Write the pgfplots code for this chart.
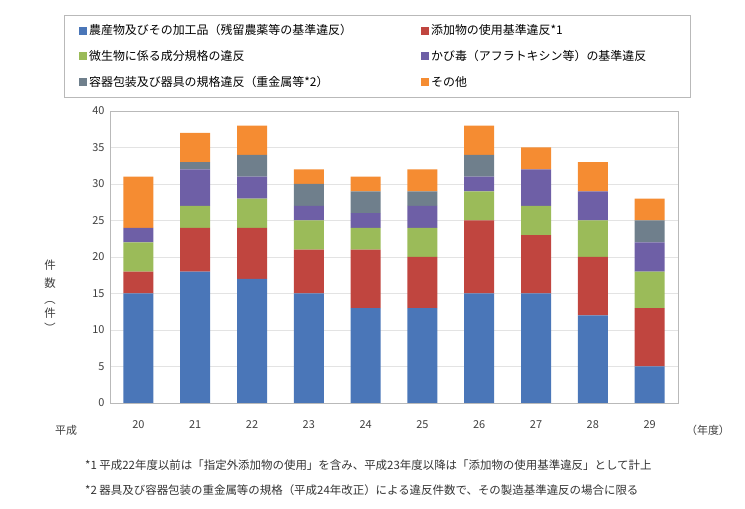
\documentclass[border=0pt]{standalone}
\usepackage{pgfplots}
\pgfplotsset{compat=1.18}
\usepackage{pgfplotstable}
\usepackage{graphicx}
\usepackage{fontspec}
\setmainfont{Noto Sans CJK JP}

\definecolor{sBlue}{HTML}{4A76B8}
\definecolor{sRed}{HTML}{C0453F}
\definecolor{sGreen}{HTML}{9BBB59}
\definecolor{sPurple}{HTML}{6E5FA6}
\definecolor{sSlate}{HTML}{6F7F8C}
\definecolor{sOrange}{HTML}{F58C32}

% violations per fiscal year (Heisei 20-29), one column per category
\pgfplotstableread{
yr  s1  s2  s3  s4  s5  s6
0   15  3   4   2   0   7
1   18  6   3   5   1   4
2   17  7   4   3   3   4
3   15  6   4   2   3   2
4   13  8   3   2   3   2
5   13  7   4   3   2   3
6   15  10  4   2   3   4
7   15  8   4   5   0   3
8   12  8   5   4   0   4
9   5   8   5   4   3   3
}\violations

\begin{document}
\begin{tikzpicture}[x=1bp,y=1bp]
\path[use as bounding box] (0,0) rectangle (745,509);

\begin{axis}[
  at={(110bp,106bp)}, anchor=south west,
  width=568bp, height=292bp, scale only axis,
  ybar stacked, bar width=30bp,
  xmin=-0.5, xmax=9.5, ymin=0, ymax=40,
  xtick={0,...,9}, xticklabels={20,21,22,23,24,25,26,27,28,29},
  ytick={0,5,...,40},
  ymajorgrids, grid style={draw=gray!22},
  axis line style={draw=gray!55},
  major tick length=0,
  tick label style={font=\fontsize{11}{13}\selectfont, text=black!75},
  /pgf/number format/assume math mode=true,
  xticklabel style={yshift=-14bp},
  yticklabel style={xshift=-2bp},
  legend columns=2,
  legend cell align=left,
  legend image code/.code={\fill[#1,draw=none] (0bp,-4bp) rectangle (8bp,4bp);},
  legend style={
    at={(axis description cs:-0.060,1.310)}, anchor=north west,
    draw=none, fill=none,
    font=\fontsize{12}{14}\selectfont,
    row sep=10bp,
  },
]
\addplot[fill=sBlue, draw=none]   table[x=yr, y=s1] {\violations};
\addlegendentry{\makebox[330bp][l]{農産物及びその加工品（残留農薬等の基準違反）}}
\addplot[fill=sRed, draw=none]    table[x=yr, y=s2] {\violations};
\addlegendentry{添加物の使用基準違反*1}
\addplot[fill=sGreen, draw=none]  table[x=yr, y=s3] {\violations};
\addlegendentry{\makebox[330bp][l]{微生物に係る成分規格の違反}}
\addplot[fill=sPurple, draw=none] table[x=yr, y=s4] {\violations};
\addlegendentry{かび毒（アフラトキシン等）の基準違反}
\addplot[fill=sSlate, draw=none]  table[x=yr, y=s5] {\violations};
\addlegendentry{\makebox[330bp][l]{容器包装及び器具の規格違反（重金属等*2）}}
\addplot[fill=sOrange, draw=none] table[x=yr, y=s6] {\violations};
\addlegendentry{その他}
\end{axis}

% legend frame
\draw[gray!55] (64,494) rectangle (690,412);

% axis captions
\node[font=\fontsize{11}{13}\selectfont, text=black!75] at (66,79) {平成};
\node[font=\fontsize{11}{13}\selectfont, text=black!75] at (708,79) {（年度）};
\node[font=\fontsize{11.5}{13}\selectfont, text=black!75, align=center, inner sep=0pt]
  at (50,212) {件\\[5bp]数\\[3bp]\rotatebox[origin=c]{-90}{（}\\[1bp]件\\[3bp]\rotatebox[origin=c]{-90}{）}};

% footnotes
\node[anchor=west, font=\fontsize{11.5}{13}\selectfont, text=black!80, inner sep=0pt]
  at (85,44) {*1 平成22年度以前は「指定外添加物の使用」を含み、平成23年度以降は「添加物の使用基準違反」として計上};
\node[anchor=west, font=\fontsize{11.5}{13}\selectfont, text=black!80, inner sep=0pt]
  at (85,19) {*2 器具及び容器包装の重金属等の規格（平成24年改正）による違反件数で、その製造基準違反の場合に限る};
\end{tikzpicture}
\end{document}
